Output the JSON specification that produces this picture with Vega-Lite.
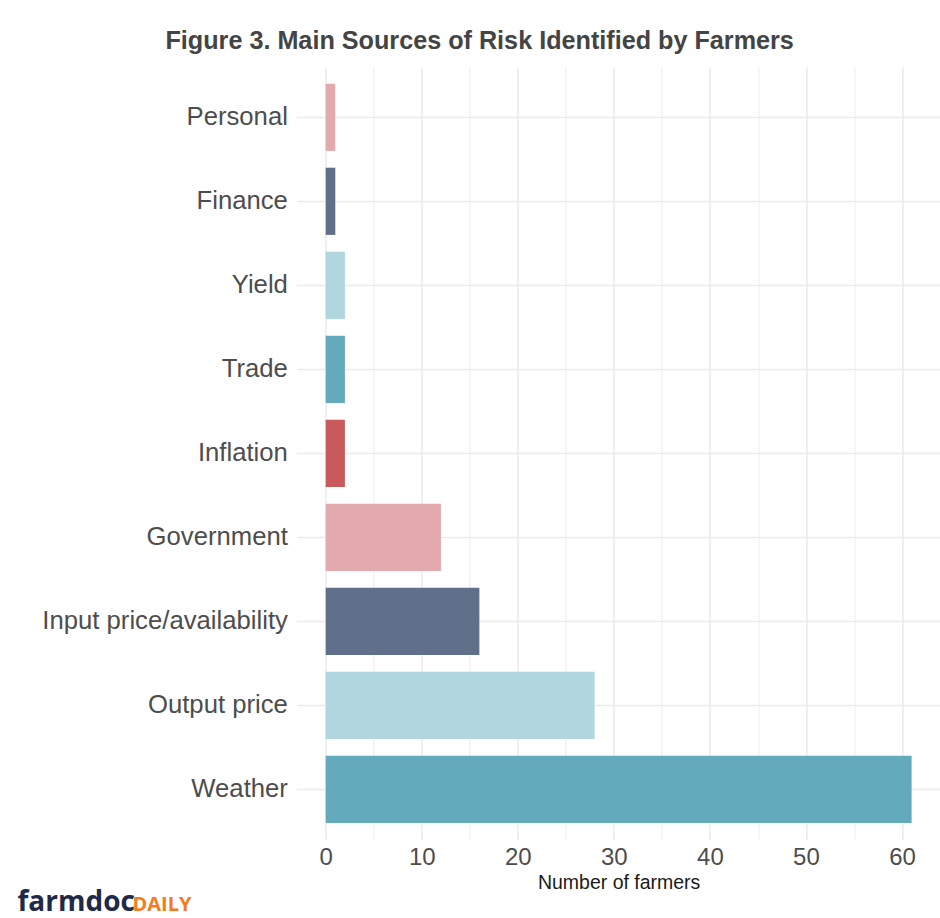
{
  "$schema": "https://vega.github.io/schema/vega-lite/v6.json",
  "width": 644.5,
  "height": 772.8,
  "autosize": {"type": "none"},
  "padding": {"left": 296.4, "top": 66.9, "right": 0, "bottom": 78.3},
  "background": "white",
  "config": {"view": {"stroke": null}},
  "title": {
    "text": "Figure 3. Main Sources of Risk Identified by Farmers",
    "font": "Liberation Sans",
    "fontSize": 25.2,
    "fontWeight": "bold",
    "color": "#444444",
    "anchor": "middle",
    "dx": -139,
    "offset": 13
  },
  "data": {
    "values": [
      {"risk": "Personal", "farmers": 1},
      {"risk": "Finance", "farmers": 1},
      {"risk": "Yield", "farmers": 2},
      {"risk": "Trade", "farmers": 2},
      {"risk": "Inflation", "farmers": 2},
      {"risk": "Government", "farmers": 12},
      {"risk": "Input price/availability", "farmers": 16},
      {"risk": "Output price", "farmers": 28},
      {"risk": "Weather", "farmers": 61}
    ]
  },
  "resolve": {"axis": {"y": "independent", "x": "shared"}},
  "layer": [
    {
      "mark": {"type": "bar"},
      "encoding": {
        "y": {
          "field": "risk",
          "type": "nominal",
          "sort": null,
          "scale": {"paddingInner": 0.2, "paddingOuter": 0.2},
          "axis": {
            "title": "farmdoc",
            "titleAngle": 0,
            "titleX": -279.4,
            "titleY": 844,
            "titleAlign": "left",
            "titleBaseline": "alphabetic",
            "titleFont": "Open Sans",
            "titleFontSize": 28,
            "titleFontWeight": "bold",
            "titleColor": "#1F2A48",
            "labelFont": "Liberation Sans",
            "labelFontSize": 25.7,
            "labelLimit": 400,
            "labelColor": "#4D4D4D",
            "labelPadding": 9,
            "ticks": false,
            "domain": false,
            "grid": true,
            "gridColor": "#EBEBEB",
            "gridWidth": 1.5,
            "bandPosition": 0.5
          }
        },
        "x": {
          "field": "farmers",
          "type": "quantitative",
          "scale": {"domain": [-3.05, 64.05], "nice": false, "zero": false},
          "axis": {
            "values": [0, 5, 10, 15, 20, 25, 30, 35, 40, 45, 50, 55, 60],
            "labelExpr": "datum.value % 10 === 0 ? datum.label : ''",
            "labelOverlap": false,
            "labelFlush": false,
            "title": "Number of farmers",
            "titleFont": "Liberation Sans",
            "titleFontSize": 19.5,
            "titleFontWeight": "normal",
            "titleColor": "#1A1A1A",
            "titlePadding": 4,
            "labelFont": "Liberation Sans",
            "labelFontSize": 24,
            "labelColor": "#4D4D4D",
            "labelPadding": 6,
            "ticks": false,
            "domain": false,
            "grid": true,
            "gridColor": {"condition": {"test": "datum.value % 10 === 0", "value": "#EBEBEB"}, "value": "#F3F3F3"},
            "gridWidth": 1.5
          }
        },
        "x2": {"datum": 0},
        "color": {
          "field": "risk",
          "type": "nominal",
          "scale": {
            "domain": ["Personal", "Finance", "Yield", "Trade", "Inflation", "Government", "Input price/availability", "Output price", "Weather"],
            "range": ["#E3AAAD", "#606F8A", "#B0D6DF", "#63AABD", "#C95A5C", "#E3AAAD", "#606F8A", "#B0D6DF", "#63AABD"]
          },
          "legend": null
        }
      }
    },
    {
      "mark": {"type": "bar", "opacity": 0},
      "encoding": {
        "y": {
          "field": "risk",
          "type": "nominal",
          "sort": null,
          "axis": {
            "orient": "right",
            "title": "DAILY",
            "titleAngle": 0,
            "titleX": -808.9,
            "titleY": 844,
            "titleAlign": "left",
            "titleBaseline": "alphabetic",
            "titleFont": "Open Sans",
            "titleFontSize": 20,
            "titleFontWeight": "bold",
            "titleColor": "#F47B20",
            "labels": false,
            "ticks": false,
            "domain": false,
            "grid": false
          }
        },
        "x": {"field": "farmers", "type": "quantitative", "title": "Number of farmers"},
        "x2": {"datum": 0}
      }
    }
  ]
}
